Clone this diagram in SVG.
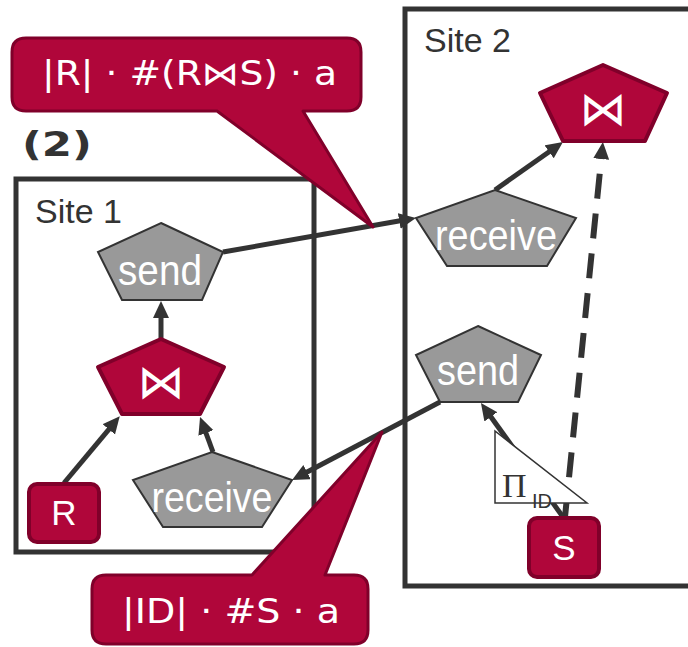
<svg xmlns="http://www.w3.org/2000/svg" width="688" height="647" viewBox="0 0 688 647">
  <style>
    .site { fill: none; stroke: #333333; stroke-width: 5; }
    .site-label { font-family: "Liberation Sans", Arial, sans-serif; font-size: 34px; fill: #333333; }
    .step { font-family: "DejaVu Sans", Verdana, sans-serif; font-weight: bold; font-size: 33px; fill: #333333; }
    .op { fill: #999999; stroke: #333333; stroke-width: 2; }
    .rel { fill: #B0063A; stroke: #80002A; stroke-width: 4; stroke-linejoin: round; }
    .op-text { font-family: "Liberation Sans", Arial, sans-serif; font-size: 43px; fill: #ffffff; text-anchor: middle; }
    .rel-text { font-family: "Liberation Sans", Arial, sans-serif; font-size: 35px; fill: #ffffff; text-anchor: middle; }
    .join-sym { font-family: "DejaVu Sans", sans-serif; font-size: 47px; fill: #ffffff; text-anchor: middle; }
    .edge { fill: none; stroke: #333333; stroke-width: 5; }
    .dashed { stroke-dasharray: 25 15; stroke-width: 6; }
    .callout { fill: #B0063A; stroke: #80002A; stroke-width: 3; stroke-linejoin: round; }
    .callout-text { font-family: "DejaVu Sans", Verdana, sans-serif; font-size: 33px; fill: #ffffff; }
    .proj { fill: #ffffff; stroke: #333333; stroke-width: 1.5; }
  </style>
  <defs>
    <marker id="arrow" markerUnits="userSpaceOnUse" markerWidth="18" markerHeight="18" refX="1" refY="8" orient="auto">
      <path d="M0,0 L17,8 L0,16 Z" fill="#333333"/>
    </marker>
  </defs>

  <!-- step number -->
  <text class="step" x="22" y="156" textLength="70" lengthAdjust="spacingAndGlyphs">(2)</text>

  <!-- sites -->
  <g id="site1">
    <rect class="site" x="16" y="179" width="298" height="373"/>
    <text class="site-label" x="35" y="223">Site 1</text>
  </g>
  <g id="site2">
    <rect class="site" x="405" y="9" width="300" height="577"/>
    <text class="site-label" x="424" y="52">Site 2</text>
  </g>

  <!-- connectors: each line stops at the base of its arrowhead -->
  <g id="connectors">
    <line class="edge" x1="161" y1="338" x2="161" y2="317" marker-end="url(#arrow)"/>
    <line class="edge" x1="64" y1="483" x2="109.5" y2="428.6" marker-end="url(#arrow)"/>
    <line class="edge" x1="213" y1="452" x2="205.6" y2="432" marker-end="url(#arrow)"/>
    <line class="edge" x1="223" y1="252" x2="400.2" y2="220.8" marker-end="url(#arrow)"/>
    <line class="edge" x1="495" y1="190" x2="549.9" y2="151.2" marker-end="url(#arrow)"/>
    <line class="edge dashed" x1="565" y1="517" x2="601.3" y2="158" marker-end="url(#arrow)"/>
    <line class="edge" x1="440" y1="402" x2="306.2" y2="472.5" marker-end="url(#arrow)"/>
    <line class="edge" x1="563" y1="517" x2="490.3" y2="416" marker-end="url(#arrow)"/>
  </g>

  <!-- Site 1 operators -->
  <g id="send1">
    <polygon class="op" points="161,223 223,252 202,300 122,300 98,252"/>
    <text class="op-text" x="160" y="285" textLength="84" lengthAdjust="spacingAndGlyphs">send</text>
  </g>
  <g id="join1">
    <polygon class="rel" points="161,339 224,367 200,414 122,414 98,367"/>
    <text class="join-sym" x="161" y="398">⋈</text>
  </g>
  <g id="R">
    <rect class="rel" x="29" y="484" width="70" height="58" rx="8"/>
    <text class="rel-text" x="64" y="525">R</text>
  </g>
  <g id="receive1">
    <polygon class="op" points="212,452 292,480 262,527 163,527 133,480"/>
    <text class="op-text" x="212" y="512" textLength="121" lengthAdjust="spacingAndGlyphs">receive</text>
  </g>

  <!-- Site 2 operators -->
  <g id="join2">
    <polygon class="rel" points="603,65 667,93 645,141 563,141 540,93"/>
    <text class="join-sym" x="603" y="125">⋈</text>
  </g>
  <g id="receive2">
    <polygon class="op" points="495,190 576,218 547,266 447,266 416,218"/>
    <text class="op-text" x="496" y="250" textLength="122" lengthAdjust="spacingAndGlyphs">receive</text>
  </g>
  <g id="send2">
    <polygon class="op" points="478,326 541,355 518,402 440,402 416,355"/>
    <text class="op-text" x="478" y="385" textLength="82" lengthAdjust="spacingAndGlyphs">send</text>
  </g>
  <g id="S">
    <rect class="rel" x="529" y="518" width="70" height="59" rx="8"/>
    <text class="rel-text" x="564" y="560">S</text>
  </g>

  <!-- projection label on the S to send edge -->
  <g id="projection">
    <polygon class="proj" points="495,431 495,503 587,503"/>
    <text x="502" y="497" font-family="'Liberation Serif', 'Times New Roman', serif" font-size="34" fill="#333333">Π</text>
    <text x="532" y="508" font-family="'Liberation Sans', Arial, sans-serif" font-size="20" fill="#333333">ID</text>
  </g>

  <!-- cost callouts -->
  <g id="callout1">
    <path class="callout" d="M26,38 H347 Q361,38 361,52 V97 Q361,111 347,111 H303 L373,227 L217,111 H26 Q12,111 12,97 V52 Q12,38 26,38 Z"/>
    <text class="callout-text" x="42" y="85" textLength="295" lengthAdjust="spacingAndGlyphs">|R| · #(R⋈S) · a</text>
  </g>
  <g id="callout2">
    <path class="callout" d="M106,575 H252 L382,432 L325,575 H354 Q368,575 368,589 V630 Q368,644 354,644 H106 Q92,644 92,630 V589 Q92,575 106,575 Z"/>
    <text class="callout-text" x="122" y="623" textLength="218" lengthAdjust="spacingAndGlyphs">|ID| · #S · a</text>
  </g>
</svg>
